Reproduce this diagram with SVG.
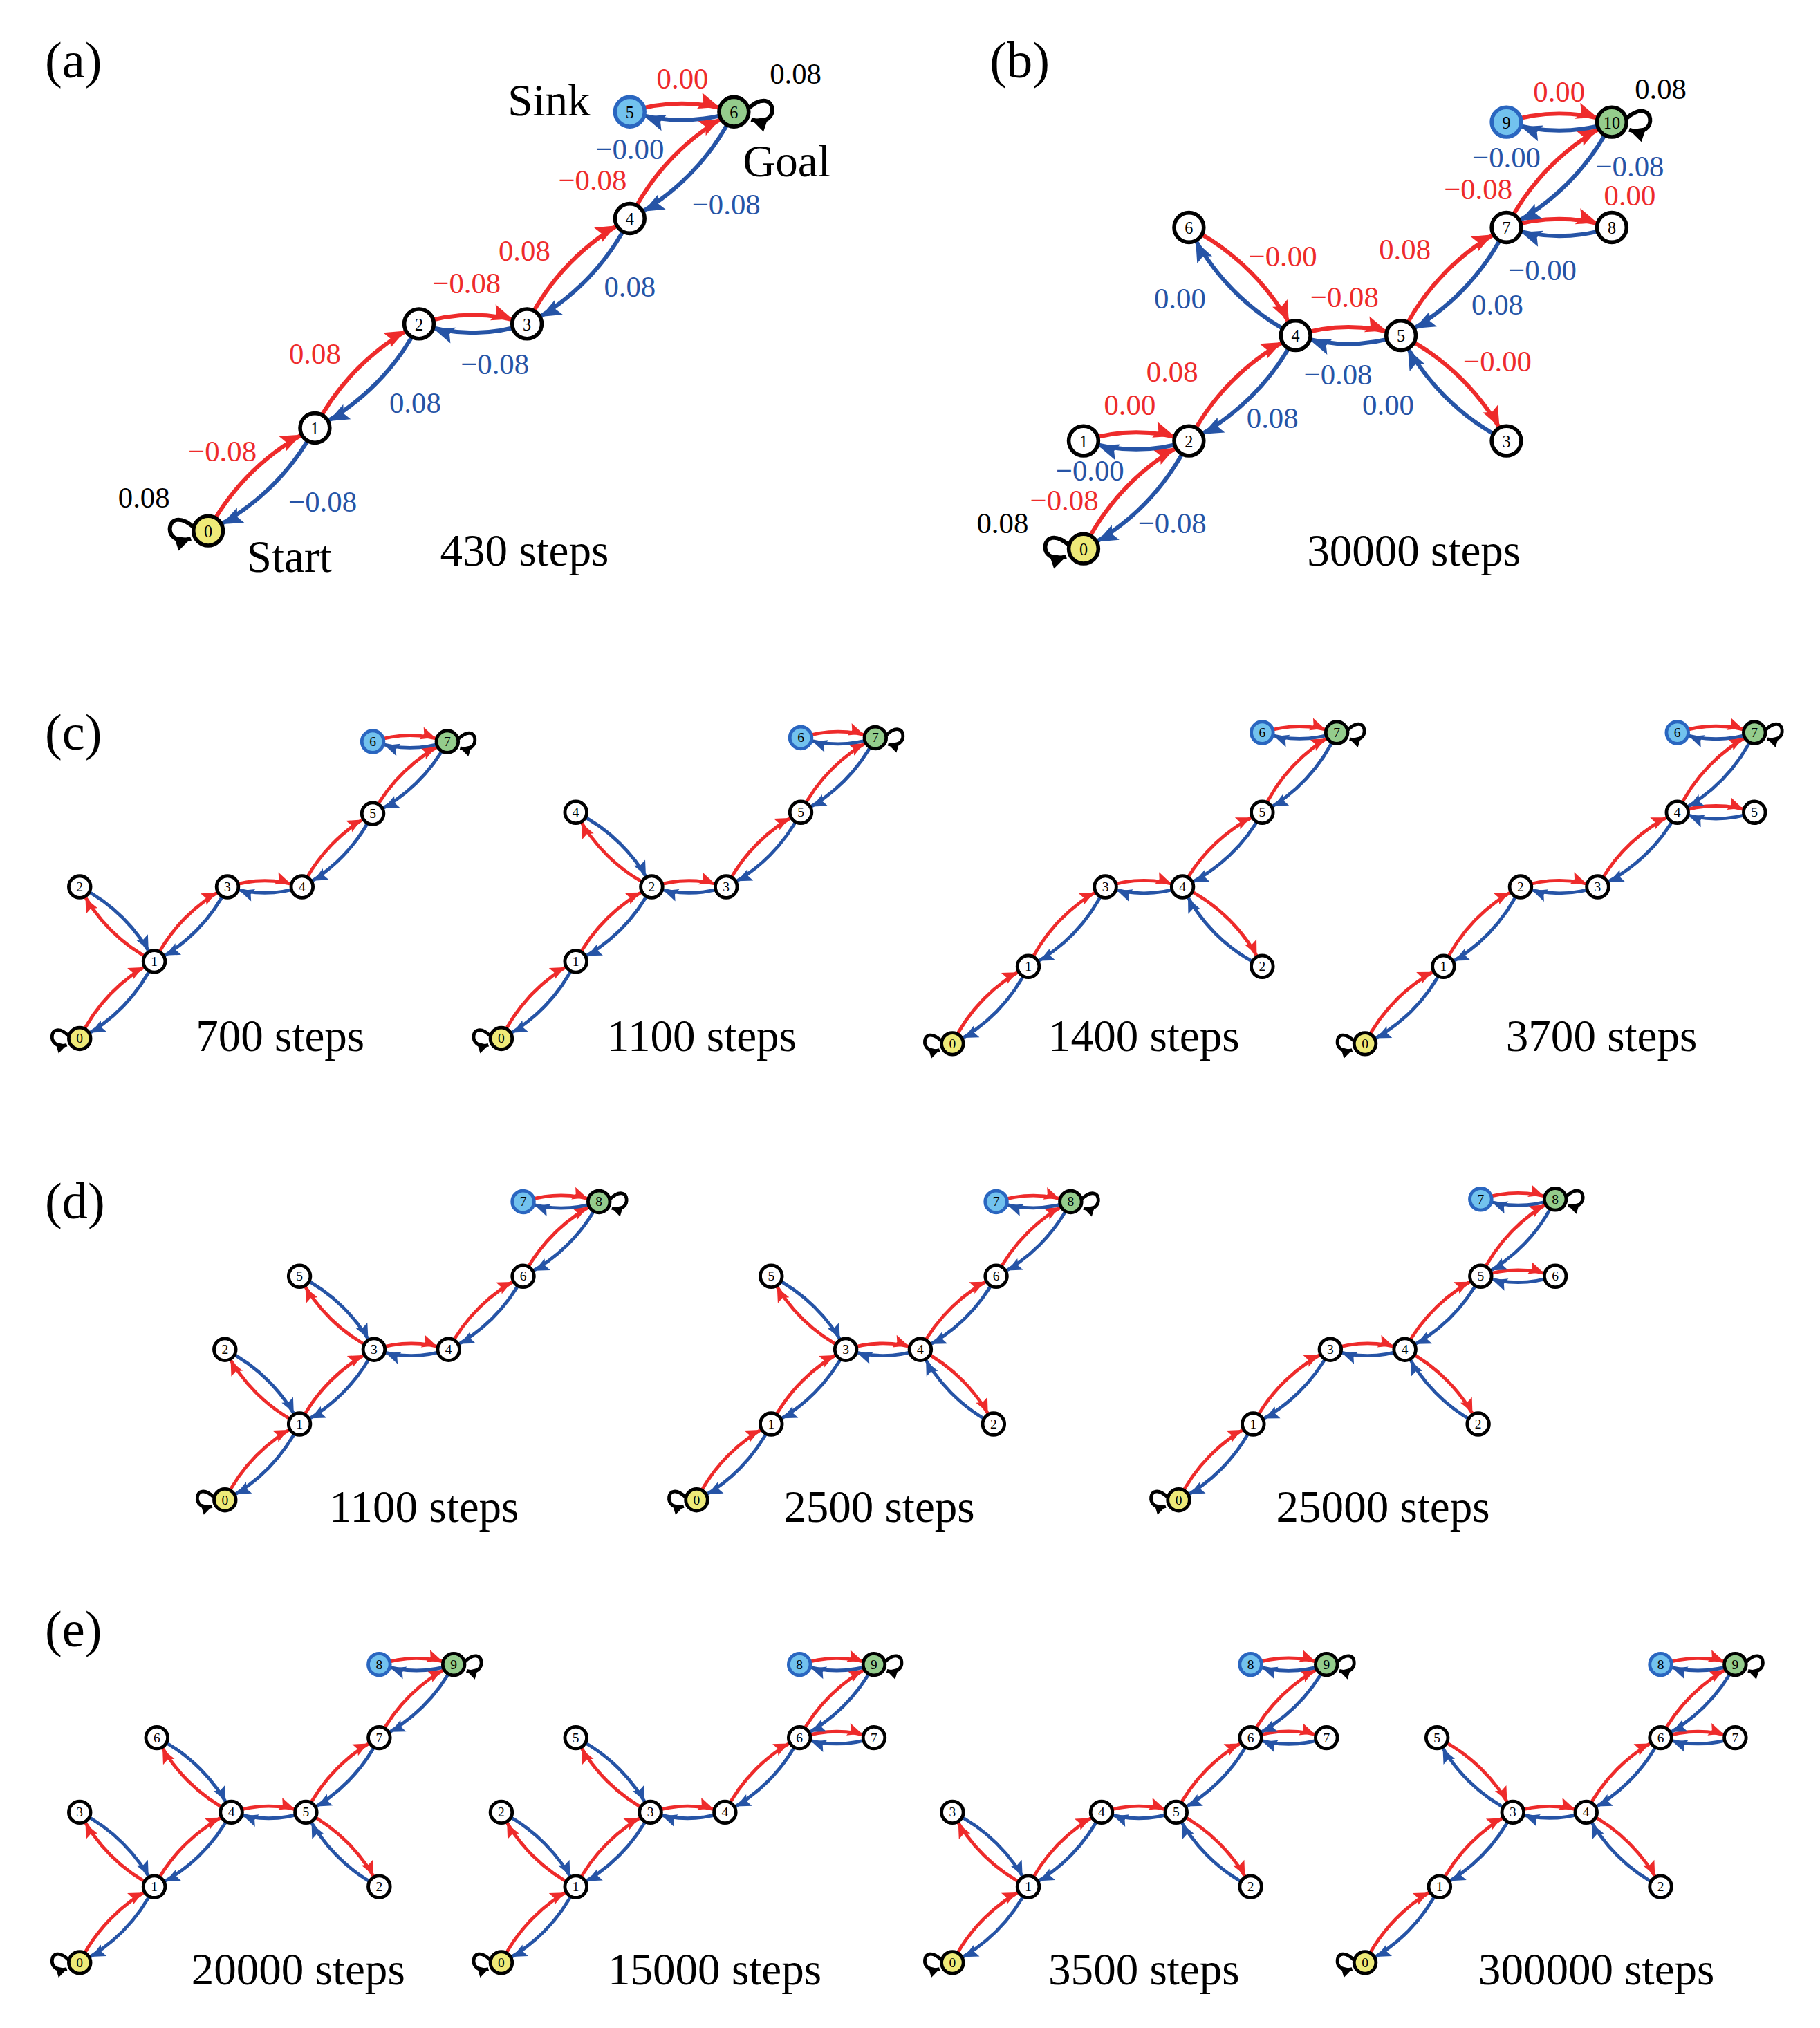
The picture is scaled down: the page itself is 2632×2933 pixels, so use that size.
<svg xmlns="http://www.w3.org/2000/svg" width="2632" height="2933" viewBox="0 0 2632 2933">
<defs>
<marker id="mR" viewBox="-32 -10 34 20" refX="0" refY="0" markerWidth="34" markerHeight="20" markerUnits="userSpaceOnUse" orient="auto"><path d="M-12,0 L-28,-6.5 L-25,0 L-28,6.5 Z" fill="#ee2b2b"/></marker>
<marker id="mB" viewBox="-32 -10 34 20" refX="0" refY="0" markerWidth="34" markerHeight="20" markerUnits="userSpaceOnUse" orient="auto"><path d="M-12,0 L-28,-6.5 L-25,0 L-28,6.5 Z" fill="#2654a6"/></marker>
<marker id="mr" viewBox="-26 -8 28 16" refX="0" refY="0" markerWidth="28" markerHeight="16" markerUnits="userSpaceOnUse" orient="auto"><path d="M-10,0 L-21,-5 L-19,0 L-21,5 Z" fill="#ee2b2b"/></marker>
<marker id="mb" viewBox="-26 -8 28 16" refX="0" refY="0" markerWidth="28" markerHeight="16" markerUnits="userSpaceOnUse" orient="auto"><path d="M-10,0 L-21,-5 L-19,0 L-21,5 Z" fill="#2654a6"/></marker>
<marker id="mK" viewBox="-14 -8 16 16" refX="0" refY="0" markerWidth="16" markerHeight="16" markerUnits="userSpaceOnUse" orient="auto"><path d="M0,0 L-12,-6 L-12,6 Z" fill="#000"/></marker>
<marker id="mk" viewBox="-10 -6 12 12" refX="0" refY="0" markerWidth="12" markerHeight="12" markerUnits="userSpaceOnUse" orient="auto"><path d="M0,0 L-8,-4.5 L-8,4.5 Z" fill="#000"/></marker>
</defs>
<style>
.R{fill:none;stroke:#ee2b2b;stroke-width:3.2;marker-end:url(#mR)}
.B{fill:none;stroke:#2654a6;stroke-width:3.2;marker-end:url(#mB)}
.r{fill:none;stroke:#ee2b2b;stroke-width:2.6;marker-end:url(#mr)}
.b{fill:none;stroke:#2654a6;stroke-width:2.6;marker-end:url(#mb)}
.L{fill:none;stroke:#000;stroke-width:3.2;marker-end:url(#mK)}
.l{fill:none;stroke:#000;stroke-width:2.6;marker-end:url(#mk)}
.N circle{fill:#fff;stroke:#000;stroke-width:3}
.n circle{fill:#fff;stroke:#000;stroke-width:2.6}
circle.y{fill:#eeea78}
circle.s{fill:#72c2ee;stroke:#2a66c0}
circle.g{fill:#94cc8c}
text{font-family:"Liberation Serif","Times New Roman",serif}
.N text{font-size:13px;text-anchor:middle}
.n text{font-size:10.5px;text-anchor:middle}
.t{font-size:40px}
.st{font-size:35px;text-anchor:middle}
.k{font-size:35px}
.el{font-size:23px;text-anchor:middle}
.er{fill:#ee2b2b}.eb{fill:#2654a6}
</style>
<rect width="2632" height="2933" fill="#fff"/>
<g transform="scale(1.8588)">
<g id="connectors">
<!-- (a) -->
<path class="R" d="M162,413 A184,184 0 0 1 245,333"/><path class="B" d="M245,333 A184,184 0 0 1 162,413"/>
<path class="R" d="M245,333 A184,184 0 0 1 326,252"/><path class="B" d="M326,252 A184,184 0 0 1 245,333"/>
<path class="R" d="M326,252 A131,131 0 0 1 410,252"/><path class="B" d="M410,252 A131,131 0 0 1 326,252"/>
<path class="R" d="M410,252 A184,184 0 0 1 490,170"/><path class="B" d="M490,170 A184,184 0 0 1 410,252"/>
<path class="R" d="M490,170 A184,184 0 0 1 571,87"/><path class="B" d="M571,87 A184,184 0 0 1 490,170"/>
<path class="R" d="M490,87 A131,131 0 0 1 571,87"/><path class="B" d="M571,87 A131,131 0 0 1 490,87"/>
<path class="L" d="M150.5,410 C128.5,391 124.5,427 148.5,419"/><path class="L" d="M582.5,84 C604.5,65 608.5,101 584.5,93"/>
<!-- (b) -->
<path class="R" d="M843,427 A184,184 0 0 1 925,343"/><path class="B" d="M925,343 A184,184 0 0 1 843,427"/>
<path class="R" d="M843,343 A131,131 0 0 1 925,343"/><path class="B" d="M925,343 A131,131 0 0 1 843,343"/>
<path class="R" d="M925,343 A184,184 0 0 1 1008,261"/><path class="B" d="M1008,261 A184,184 0 0 1 925,343"/>
<path class="R" d="M925,177 A184,184 0 0 1 1008,261"/><path class="B" d="M1008,261 A184,184 0 0 1 925,177"/>
<path class="R" d="M1008,261 A131,131 0 0 1 1090,261"/><path class="B" d="M1090,261 A131,131 0 0 1 1008,261"/>
<path class="R" d="M1090,261 A184,184 0 0 1 1172,343"/><path class="B" d="M1172,343 A184,184 0 0 1 1090,261"/>
<path class="R" d="M1090,261 A184,184 0 0 1 1172,177"/><path class="B" d="M1172,177 A184,184 0 0 1 1090,261"/>
<path class="R" d="M1172,177 A131,131 0 0 1 1254,177"/><path class="B" d="M1254,177 A131,131 0 0 1 1172,177"/>
<path class="R" d="M1172,177 A184,184 0 0 1 1254,95"/><path class="B" d="M1254,95 A184,184 0 0 1 1172,177"/>
<path class="R" d="M1172,95 A131,131 0 0 1 1254,95"/><path class="B" d="M1254,95 A131,131 0 0 1 1172,95"/>
<path class="L" d="M831.5,424 C809.5,405 805.5,441 829.5,433"/><path class="L" d="M1265.5,92 C1287.5,73 1291.5,109 1267.5,101"/>
<!-- c1 -->
<path class="r" d="M62,808 A130,130 0 0 1 120,748"/><path class="b" d="M120,748 A130,130 0 0 1 62,808"/>
<path class="r" d="M120,748 A130,130 0 0 1 62,690"/><path class="b" d="M62,690 A130,130 0 0 1 120,748"/>
<path class="r" d="M120,748 A130,130 0 0 1 177,690"/><path class="b" d="M177,690 A130,130 0 0 1 120,748"/>
<path class="r" d="M177,690 A93,93 0 0 1 235,690"/><path class="b" d="M235,690 A93,93 0 0 1 177,690"/>
<path class="r" d="M235,690 A130,130 0 0 1 290,633"/><path class="b" d="M290,633 A130,130 0 0 1 235,690"/>
<path class="r" d="M290,633 A130,130 0 0 1 348,577"/><path class="b" d="M348,577 A130,130 0 0 1 290,633"/>
<path class="r" d="M290,577 A93,93 0 0 1 348,577"/><path class="b" d="M348,577 A93,93 0 0 1 290,577"/>
<path class="l" d="M53.5,806 C38,791 35,818 52,813"/><path class="l" d="M356.5,575 C372,560 375,587 358,582"/>
<!-- c2 -->
<path class="r" d="M390,808 A130,130 0 0 1 448,748"/><path class="b" d="M448,748 A130,130 0 0 1 390,808"/>
<path class="r" d="M448,748 A130,130 0 0 1 507,690"/><path class="b" d="M507,690 A130,130 0 0 1 448,748"/>
<path class="r" d="M507,690 A130,130 0 0 1 448,632"/><path class="b" d="M448,632 A130,130 0 0 1 507,690"/>
<path class="r" d="M507,690 A93,93 0 0 1 565,690"/><path class="b" d="M565,690 A93,93 0 0 1 507,690"/>
<path class="r" d="M565,690 A130,130 0 0 1 623,632"/><path class="b" d="M623,632 A130,130 0 0 1 565,690"/>
<path class="r" d="M623,632 A130,130 0 0 1 681,574"/><path class="b" d="M681,574 A130,130 0 0 1 623,632"/>
<path class="r" d="M623,574 A93,93 0 0 1 681,574"/><path class="b" d="M681,574 A93,93 0 0 1 623,574"/>
<path class="l" d="M381.5,806 C366,791 363,818 380,813"/><path class="l" d="M689.5,572 C705,557 708,584 691,579"/>
<!-- c3 -->
<path class="r" d="M741,812 A130,130 0 0 1 800,752"/><path class="b" d="M800,752 A130,130 0 0 1 741,812"/>
<path class="r" d="M800,752 A130,130 0 0 1 860,690"/><path class="b" d="M860,690 A130,130 0 0 1 800,752"/>
<path class="r" d="M860,690 A93,93 0 0 1 920,690"/><path class="b" d="M920,690 A93,93 0 0 1 860,690"/>
<path class="r" d="M920,690 A130,130 0 0 1 982,752"/><path class="b" d="M982,752 A130,130 0 0 1 920,690"/>
<path class="r" d="M920,690 A130,130 0 0 1 982,632"/><path class="b" d="M982,632 A130,130 0 0 1 920,690"/>
<path class="r" d="M982,632 A130,130 0 0 1 1040,570"/><path class="b" d="M1040,570 A130,130 0 0 1 982,632"/>
<path class="r" d="M982,570 A93,93 0 0 1 1040,570"/><path class="b" d="M1040,570 A93,93 0 0 1 982,570"/>
<path class="l" d="M732.5,810 C717,795 714,822 731,817"/><path class="l" d="M1048.5,568 C1064,553 1067,580 1050,575"/>
<!-- c4 -->
<path class="r" d="M1062,812 A130,130 0 0 1 1123,752"/><path class="b" d="M1123,752 A130,130 0 0 1 1062,812"/>
<path class="r" d="M1123,752 A130,130 0 0 1 1183,690"/><path class="b" d="M1183,690 A130,130 0 0 1 1123,752"/>
<path class="r" d="M1183,690 A93,93 0 0 1 1243,690"/><path class="b" d="M1243,690 A93,93 0 0 1 1183,690"/>
<path class="r" d="M1243,690 A130,130 0 0 1 1305,632"/><path class="b" d="M1305,632 A130,130 0 0 1 1243,690"/>
<path class="r" d="M1305,632 A93,93 0 0 1 1365,632"/><path class="b" d="M1365,632 A93,93 0 0 1 1305,632"/>
<path class="r" d="M1305,632 A130,130 0 0 1 1365,570"/><path class="b" d="M1365,570 A130,130 0 0 1 1305,632"/>
<path class="r" d="M1305,570 A93,93 0 0 1 1365,570"/><path class="b" d="M1365,570 A93,93 0 0 1 1305,570"/>
<path class="l" d="M1053.5,810 C1038,795 1035,822 1052,817"/><path class="l" d="M1373.5,568 C1389,553 1392,580 1375,575"/>
<!-- d1 -->
<path class="r" d="M175,1167 A130,130 0 0 1 233,1108"/><path class="b" d="M233,1108 A130,130 0 0 1 175,1167"/>
<path class="r" d="M233,1108 A130,130 0 0 1 175,1050"/><path class="b" d="M175,1050 A130,130 0 0 1 233,1108"/>
<path class="r" d="M233,1108 A130,130 0 0 1 291,1050"/><path class="b" d="M291,1050 A130,130 0 0 1 233,1108"/>
<path class="r" d="M291,1050 A130,130 0 0 1 233,993"/><path class="b" d="M233,993 A130,130 0 0 1 291,1050"/>
<path class="r" d="M291,1050 A93,93 0 0 1 349,1050"/><path class="b" d="M349,1050 A93,93 0 0 1 291,1050"/>
<path class="r" d="M349,1050 A130,130 0 0 1 407,993"/><path class="b" d="M407,993 A130,130 0 0 1 349,1050"/>
<path class="r" d="M407,993 A130,130 0 0 1 466,935"/><path class="b" d="M466,935 A130,130 0 0 1 407,993"/>
<path class="r" d="M407,935 A93,93 0 0 1 466,935"/><path class="b" d="M466,935 A93,93 0 0 1 407,935"/>
<path class="l" d="M166.5,1165 C151,1150 148,1177 165,1172"/><path class="l" d="M474.5,933 C490,918 493,945 476,940"/>
<!-- d2 -->
<path class="r" d="M542,1167 A130,130 0 0 1 600,1108"/><path class="b" d="M600,1108 A130,130 0 0 1 542,1167"/>
<path class="r" d="M600,1108 A130,130 0 0 1 658,1050"/><path class="b" d="M658,1050 A130,130 0 0 1 600,1108"/>
<path class="r" d="M658,1050 A130,130 0 0 1 600,993"/><path class="b" d="M600,993 A130,130 0 0 1 658,1050"/>
<path class="r" d="M658,1050 A93,93 0 0 1 716,1050"/><path class="b" d="M716,1050 A93,93 0 0 1 658,1050"/>
<path class="r" d="M716,1050 A130,130 0 0 1 773,1108"/><path class="b" d="M773,1108 A130,130 0 0 1 716,1050"/>
<path class="r" d="M716,1050 A130,130 0 0 1 775,993"/><path class="b" d="M775,993 A130,130 0 0 1 716,1050"/>
<path class="r" d="M775,993 A130,130 0 0 1 833,935"/><path class="b" d="M833,935 A130,130 0 0 1 775,993"/>
<path class="r" d="M775,935 A93,93 0 0 1 833,935"/><path class="b" d="M833,935 A93,93 0 0 1 775,935"/>
<path class="l" d="M533.5,1165 C518,1150 515,1177 532,1172"/><path class="l" d="M841.5,933 C857,918 860,945 843,940"/>
<!-- d3 -->
<path class="r" d="M917,1167 A130,130 0 0 1 975,1108"/><path class="b" d="M975,1108 A130,130 0 0 1 917,1167"/>
<path class="r" d="M975,1108 A130,130 0 0 1 1035,1050"/><path class="b" d="M1035,1050 A130,130 0 0 1 975,1108"/>
<path class="r" d="M1035,1050 A93,93 0 0 1 1093,1050"/><path class="b" d="M1093,1050 A93,93 0 0 1 1035,1050"/>
<path class="r" d="M1093,1050 A130,130 0 0 1 1150,1108"/><path class="b" d="M1150,1108 A130,130 0 0 1 1093,1050"/>
<path class="r" d="M1093,1050 A130,130 0 0 1 1152,993"/><path class="b" d="M1152,993 A130,130 0 0 1 1093,1050"/>
<path class="r" d="M1152,993 A93,93 0 0 1 1210,993"/><path class="b" d="M1210,993 A93,93 0 0 1 1152,993"/>
<path class="r" d="M1152,993 A130,130 0 0 1 1210,933"/><path class="b" d="M1210,933 A130,130 0 0 1 1152,993"/>
<path class="r" d="M1152,933 A93,93 0 0 1 1210,933"/><path class="b" d="M1210,933 A93,93 0 0 1 1152,933"/>
<path class="l" d="M908.5,1165 C893,1150 890,1177 907,1172"/><path class="l" d="M1218.5,931 C1234,916 1237,943 1220,938"/>
<!-- e1 -->
<path class="r" d="M62,1527 A130,130 0 0 1 120,1468"/><path class="b" d="M120,1468 A130,130 0 0 1 62,1527"/>
<path class="r" d="M120,1468 A130,130 0 0 1 62,1410"/><path class="b" d="M62,1410 A130,130 0 0 1 120,1468"/>
<path class="r" d="M120,1468 A130,130 0 0 1 180,1410"/><path class="b" d="M180,1410 A130,130 0 0 1 120,1468"/>
<path class="r" d="M180,1410 A130,130 0 0 1 122,1352"/><path class="b" d="M122,1352 A130,130 0 0 1 180,1410"/>
<path class="r" d="M180,1410 A93,93 0 0 1 238,1410"/><path class="b" d="M238,1410 A93,93 0 0 1 180,1410"/>
<path class="r" d="M238,1410 A130,130 0 0 1 295,1468"/><path class="b" d="M295,1468 A130,130 0 0 1 238,1410"/>
<path class="r" d="M238,1410 A130,130 0 0 1 295,1352"/><path class="b" d="M295,1352 A130,130 0 0 1 238,1410"/>
<path class="r" d="M295,1352 A130,130 0 0 1 353,1295"/><path class="b" d="M353,1295 A130,130 0 0 1 295,1352"/>
<path class="r" d="M295,1295 A93,93 0 0 1 353,1295"/><path class="b" d="M353,1295 A93,93 0 0 1 295,1295"/>
<path class="l" d="M53.5,1525 C38,1510 35,1537 52,1532"/><path class="l" d="M361.5,1293 C377,1278 380,1305 363,1300"/>
<!-- e2 -->
<path class="r" d="M390,1527 A130,130 0 0 1 448,1468"/><path class="b" d="M448,1468 A130,130 0 0 1 390,1527"/>
<path class="r" d="M448,1468 A130,130 0 0 1 390,1410"/><path class="b" d="M390,1410 A130,130 0 0 1 448,1468"/>
<path class="r" d="M448,1468 A130,130 0 0 1 506,1410"/><path class="b" d="M506,1410 A130,130 0 0 1 448,1468"/>
<path class="r" d="M506,1410 A130,130 0 0 1 448,1352"/><path class="b" d="M448,1352 A130,130 0 0 1 506,1410"/>
<path class="r" d="M506,1410 A93,93 0 0 1 564,1410"/><path class="b" d="M564,1410 A93,93 0 0 1 506,1410"/>
<path class="r" d="M564,1410 A130,130 0 0 1 622,1352"/><path class="b" d="M622,1352 A130,130 0 0 1 564,1410"/>
<path class="r" d="M622,1352 A93,93 0 0 1 680,1352"/><path class="b" d="M680,1352 A93,93 0 0 1 622,1352"/>
<path class="r" d="M622,1352 A130,130 0 0 1 680,1295"/><path class="b" d="M680,1295 A130,130 0 0 1 622,1352"/>
<path class="r" d="M622,1295 A93,93 0 0 1 680,1295"/><path class="b" d="M680,1295 A93,93 0 0 1 622,1295"/>
<path class="l" d="M381.5,1525 C366,1510 363,1537 380,1532"/><path class="l" d="M688.5,1293 C704,1278 707,1305 690,1300"/>
<!-- e3 -->
<path class="r" d="M741,1527 A130,130 0 0 1 800,1468"/><path class="b" d="M800,1468 A130,130 0 0 1 741,1527"/>
<path class="r" d="M800,1468 A130,130 0 0 1 741,1410"/><path class="b" d="M741,1410 A130,130 0 0 1 800,1468"/>
<path class="r" d="M800,1468 A130,130 0 0 1 857,1410"/><path class="b" d="M857,1410 A130,130 0 0 1 800,1468"/>
<path class="r" d="M857,1410 A93,93 0 0 1 915,1410"/><path class="b" d="M915,1410 A93,93 0 0 1 857,1410"/>
<path class="r" d="M915,1410 A130,130 0 0 1 973,1468"/><path class="b" d="M973,1468 A130,130 0 0 1 915,1410"/>
<path class="r" d="M915,1410 A130,130 0 0 1 973,1352"/><path class="b" d="M973,1352 A130,130 0 0 1 915,1410"/>
<path class="r" d="M973,1352 A93,93 0 0 1 1032,1352"/><path class="b" d="M1032,1352 A93,93 0 0 1 973,1352"/>
<path class="r" d="M973,1352 A130,130 0 0 1 1032,1295"/><path class="b" d="M1032,1295 A130,130 0 0 1 973,1352"/>
<path class="r" d="M973,1295 A93,93 0 0 1 1032,1295"/><path class="b" d="M1032,1295 A93,93 0 0 1 973,1295"/>
<path class="l" d="M732.5,1525 C717,1510 714,1537 731,1532"/><path class="l" d="M1040.5,1293 C1056,1278 1059,1305 1042,1300"/>
<!-- e4 -->
<path class="r" d="M1062,1527 A130,130 0 0 1 1120,1468"/><path class="b" d="M1120,1468 A130,130 0 0 1 1062,1527"/>
<path class="r" d="M1120,1468 A130,130 0 0 1 1177,1410"/><path class="b" d="M1177,1410 A130,130 0 0 1 1120,1468"/>
<path class="r" d="M1118,1352 A130,130 0 0 1 1177,1410"/><path class="b" d="M1177,1410 A130,130 0 0 1 1118,1352"/>
<path class="r" d="M1177,1410 A93,93 0 0 1 1234,1410"/><path class="b" d="M1234,1410 A93,93 0 0 1 1177,1410"/>
<path class="r" d="M1234,1410 A130,130 0 0 1 1292,1468"/><path class="b" d="M1292,1468 A130,130 0 0 1 1234,1410"/>
<path class="r" d="M1234,1410 A130,130 0 0 1 1292,1352"/><path class="b" d="M1292,1352 A130,130 0 0 1 1234,1410"/>
<path class="r" d="M1292,1352 A93,93 0 0 1 1350,1352"/><path class="b" d="M1350,1352 A93,93 0 0 1 1292,1352"/>
<path class="r" d="M1292,1352 A130,130 0 0 1 1350,1295"/><path class="b" d="M1350,1295 A130,130 0 0 1 1292,1352"/>
<path class="r" d="M1292,1295 A93,93 0 0 1 1350,1295"/><path class="b" d="M1350,1295 A93,93 0 0 1 1292,1295"/>
<path class="l" d="M1053.5,1525 C1038,1510 1035,1537 1052,1532"/><path class="l" d="M1358.5,1293 C1374,1278 1377,1305 1360,1300"/>
</g>

<!-- nodes (a) -->
<g id="a0" class="N"><circle class="y" cx="162" cy="413" r="11.5"/><text x="162" y="418">0</text></g>
<g id="a1" class="N"><circle cx="245" cy="333" r="11.5"/><text x="245" y="338">1</text></g>
<g id="a2" class="N"><circle cx="326" cy="252" r="11.5"/><text x="326" y="257">2</text></g>
<g id="a3" class="N"><circle cx="410" cy="252" r="11.5"/><text x="410" y="257">3</text></g>
<g id="a4" class="N"><circle cx="490" cy="170" r="11.5"/><text x="490" y="175">4</text></g>
<g id="a5" class="N"><circle class="s" cx="490" cy="87" r="11.5"/><text x="490" y="92">5</text></g>
<g id="a6" class="N"><circle class="g" cx="571" cy="87" r="11.5"/><text x="571" y="92">6</text></g>
<!-- nodes (b) -->
<g id="b0" class="N"><circle class="y" cx="843" cy="427" r="11.5"/><text x="843" y="432">0</text></g>
<g id="b1" class="N"><circle cx="843" cy="343" r="11.5"/><text x="843" y="348">1</text></g>
<g id="b2" class="N"><circle cx="925" cy="343" r="11.5"/><text x="925" y="348">2</text></g>
<g id="b3" class="N"><circle cx="1172" cy="343" r="11.5"/><text x="1172" y="348">3</text></g>
<g id="b4" class="N"><circle cx="1008" cy="261" r="11.5"/><text x="1008" y="266">4</text></g>
<g id="b5" class="N"><circle cx="1090" cy="261" r="11.5"/><text x="1090" y="266">5</text></g>
<g id="b6" class="N"><circle cx="925" cy="177" r="11.5"/><text x="925" y="182">6</text></g>
<g id="b7" class="N"><circle cx="1172" cy="177" r="11.5"/><text x="1172" y="182">7</text></g>
<g id="b8" class="N"><circle cx="1254" cy="177" r="11.5"/><text x="1254" y="182">8</text></g>
<g id="b9" class="N"><circle class="s" cx="1172" cy="95" r="11.5"/><text x="1172" y="100">9</text></g>
<g id="b10" class="N"><circle class="g" cx="1254" cy="95" r="11.5"/><text x="1254" y="100">10</text></g>
<!-- c1 -->
<g id="c1n0" class="n"><circle class="y" cx="62" cy="808" r="8.5"/><text x="62" y="811.5">0</text></g>
<g id="c1n1" class="n"><circle cx="120" cy="748" r="8.5"/><text x="120" y="751.5">1</text></g>
<g id="c1n2" class="n"><circle cx="62" cy="690" r="8.5"/><text x="62" y="693.5">2</text></g>
<g id="c1n3" class="n"><circle cx="177" cy="690" r="8.5"/><text x="177" y="693.5">3</text></g>
<g id="c1n4" class="n"><circle cx="235" cy="690" r="8.5"/><text x="235" y="693.5">4</text></g>
<g id="c1n5" class="n"><circle cx="290" cy="633" r="8.5"/><text x="290" y="636.5">5</text></g>
<g id="c1n6" class="n"><circle class="s" cx="290" cy="577" r="8.5"/><text x="290" y="580.5">6</text></g>
<g id="c1n7" class="n"><circle class="g" cx="348" cy="577" r="8.5"/><text x="348" y="580.5">7</text></g>
<!-- c2 -->
<g id="c2n0" class="n"><circle class="y" cx="390" cy="808" r="8.5"/><text x="390" y="811.5">0</text></g>
<g id="c2n1" class="n"><circle cx="448" cy="748" r="8.5"/><text x="448" y="751.5">1</text></g>
<g id="c2n2" class="n"><circle cx="507" cy="690" r="8.5"/><text x="507" y="693.5">2</text></g>
<g id="c2n3" class="n"><circle cx="565" cy="690" r="8.5"/><text x="565" y="693.5">3</text></g>
<g id="c2n4" class="n"><circle cx="448" cy="632" r="8.5"/><text x="448" y="635.5">4</text></g>
<g id="c2n5" class="n"><circle cx="623" cy="632" r="8.5"/><text x="623" y="635.5">5</text></g>
<g id="c2n6" class="n"><circle class="s" cx="623" cy="574" r="8.5"/><text x="623" y="577.5">6</text></g>
<g id="c2n7" class="n"><circle class="g" cx="681" cy="574" r="8.5"/><text x="681" y="577.5">7</text></g>
<!-- c3 -->
<g id="c3n0" class="n"><circle class="y" cx="741" cy="812" r="8.5"/><text x="741" y="815.5">0</text></g>
<g id="c3n1" class="n"><circle cx="800" cy="752" r="8.5"/><text x="800" y="755.5">1</text></g>
<g id="c3n2" class="n"><circle cx="982" cy="752" r="8.5"/><text x="982" y="755.5">2</text></g>
<g id="c3n3" class="n"><circle cx="860" cy="690" r="8.5"/><text x="860" y="693.5">3</text></g>
<g id="c3n4" class="n"><circle cx="920" cy="690" r="8.5"/><text x="920" y="693.5">4</text></g>
<g id="c3n5" class="n"><circle cx="982" cy="632" r="8.5"/><text x="982" y="635.5">5</text></g>
<g id="c3n6" class="n"><circle class="s" cx="982" cy="570" r="8.5"/><text x="982" y="573.5">6</text></g>
<g id="c3n7" class="n"><circle class="g" cx="1040" cy="570" r="8.5"/><text x="1040" y="573.5">7</text></g>
<!-- c4 -->
<g id="c4n0" class="n"><circle class="y" cx="1062" cy="812" r="8.5"/><text x="1062" y="815.5">0</text></g>
<g id="c4n1" class="n"><circle cx="1123" cy="752" r="8.5"/><text x="1123" y="755.5">1</text></g>
<g id="c4n2" class="n"><circle cx="1183" cy="690" r="8.5"/><text x="1183" y="693.5">2</text></g>
<g id="c4n3" class="n"><circle cx="1243" cy="690" r="8.5"/><text x="1243" y="693.5">3</text></g>
<g id="c4n4" class="n"><circle cx="1305" cy="632" r="8.5"/><text x="1305" y="635.5">4</text></g>
<g id="c4n5" class="n"><circle cx="1365" cy="632" r="8.5"/><text x="1365" y="635.5">5</text></g>
<g id="c4n6" class="n"><circle class="s" cx="1305" cy="570" r="8.5"/><text x="1305" y="573.5">6</text></g>
<g id="c4n7" class="n"><circle class="g" cx="1365" cy="570" r="8.5"/><text x="1365" y="573.5">7</text></g>
<!-- d1 -->
<g id="d1n0" class="n"><circle class="y" cx="175" cy="1167" r="8.5"/><text x="175" y="1170.5">0</text></g>
<g id="d1n1" class="n"><circle cx="233" cy="1108" r="8.5"/><text x="233" y="1111.5">1</text></g>
<g id="d1n2" class="n"><circle cx="175" cy="1050" r="8.5"/><text x="175" y="1053.5">2</text></g>
<g id="d1n3" class="n"><circle cx="291" cy="1050" r="8.5"/><text x="291" y="1053.5">3</text></g>
<g id="d1n4" class="n"><circle cx="349" cy="1050" r="8.5"/><text x="349" y="1053.5">4</text></g>
<g id="d1n5" class="n"><circle cx="233" cy="993" r="8.5"/><text x="233" y="996.5">5</text></g>
<g id="d1n6" class="n"><circle cx="407" cy="993" r="8.5"/><text x="407" y="996.5">6</text></g>
<g id="d1n7" class="n"><circle class="s" cx="407" cy="935" r="8.5"/><text x="407" y="938.5">7</text></g>
<g id="d1n8" class="n"><circle class="g" cx="466" cy="935" r="8.5"/><text x="466" y="938.5">8</text></g>
<!-- d2 -->
<g id="d2n0" class="n"><circle class="y" cx="542" cy="1167" r="8.5"/><text x="542" y="1170.5">0</text></g>
<g id="d2n1" class="n"><circle cx="600" cy="1108" r="8.5"/><text x="600" y="1111.5">1</text></g>
<g id="d2n2" class="n"><circle cx="773" cy="1108" r="8.5"/><text x="773" y="1111.5">2</text></g>
<g id="d2n3" class="n"><circle cx="658" cy="1050" r="8.5"/><text x="658" y="1053.5">3</text></g>
<g id="d2n4" class="n"><circle cx="716" cy="1050" r="8.5"/><text x="716" y="1053.5">4</text></g>
<g id="d2n5" class="n"><circle cx="600" cy="993" r="8.5"/><text x="600" y="996.5">5</text></g>
<g id="d2n6" class="n"><circle cx="775" cy="993" r="8.5"/><text x="775" y="996.5">6</text></g>
<g id="d2n7" class="n"><circle class="s" cx="775" cy="935" r="8.5"/><text x="775" y="938.5">7</text></g>
<g id="d2n8" class="n"><circle class="g" cx="833" cy="935" r="8.5"/><text x="833" y="938.5">8</text></g>
<!-- d3 -->
<g id="d3n0" class="n"><circle class="y" cx="917" cy="1167" r="8.5"/><text x="917" y="1170.5">0</text></g>
<g id="d3n1" class="n"><circle cx="975" cy="1108" r="8.5"/><text x="975" y="1111.5">1</text></g>
<g id="d3n2" class="n"><circle cx="1150" cy="1108" r="8.5"/><text x="1150" y="1111.5">2</text></g>
<g id="d3n3" class="n"><circle cx="1035" cy="1050" r="8.5"/><text x="1035" y="1053.5">3</text></g>
<g id="d3n4" class="n"><circle cx="1093" cy="1050" r="8.5"/><text x="1093" y="1053.5">4</text></g>
<g id="d3n5" class="n"><circle cx="1152" cy="993" r="8.5"/><text x="1152" y="996.5">5</text></g>
<g id="d3n6" class="n"><circle cx="1210" cy="993" r="8.5"/><text x="1210" y="996.5">6</text></g>
<g id="d3n7" class="n"><circle class="s" cx="1152" cy="933" r="8.5"/><text x="1152" y="936.5">7</text></g>
<g id="d3n8" class="n"><circle class="g" cx="1210" cy="933" r="8.5"/><text x="1210" y="936.5">8</text></g>
<!-- e1 -->
<g id="e1n0" class="n"><circle class="y" cx="62" cy="1527" r="8.5"/><text x="62" y="1530.5">0</text></g>
<g id="e1n1" class="n"><circle cx="120" cy="1468" r="8.5"/><text x="120" y="1471.5">1</text></g>
<g id="e1n2" class="n"><circle cx="295" cy="1468" r="8.5"/><text x="295" y="1471.5">2</text></g>
<g id="e1n3" class="n"><circle cx="62" cy="1410" r="8.5"/><text x="62" y="1413.5">3</text></g>
<g id="e1n4" class="n"><circle cx="180" cy="1410" r="8.5"/><text x="180" y="1413.5">4</text></g>
<g id="e1n5" class="n"><circle cx="238" cy="1410" r="8.5"/><text x="238" y="1413.5">5</text></g>
<g id="e1n6" class="n"><circle cx="122" cy="1352" r="8.5"/><text x="122" y="1355.5">6</text></g>
<g id="e1n7" class="n"><circle cx="295" cy="1352" r="8.5"/><text x="295" y="1355.5">7</text></g>
<g id="e1n8" class="n"><circle class="s" cx="295" cy="1295" r="8.5"/><text x="295" y="1298.5">8</text></g>
<g id="e1n9" class="n"><circle class="g" cx="353" cy="1295" r="8.5"/><text x="353" y="1298.5">9</text></g>
<!-- e2 -->
<g id="e2n0" class="n"><circle class="y" cx="390" cy="1527" r="8.5"/><text x="390" y="1530.5">0</text></g>
<g id="e2n1" class="n"><circle cx="448" cy="1468" r="8.5"/><text x="448" y="1471.5">1</text></g>
<g id="e2n2" class="n"><circle cx="390" cy="1410" r="8.5"/><text x="390" y="1413.5">2</text></g>
<g id="e2n3" class="n"><circle cx="506" cy="1410" r="8.5"/><text x="506" y="1413.5">3</text></g>
<g id="e2n4" class="n"><circle cx="564" cy="1410" r="8.5"/><text x="564" y="1413.5">4</text></g>
<g id="e2n5" class="n"><circle cx="448" cy="1352" r="8.5"/><text x="448" y="1355.5">5</text></g>
<g id="e2n6" class="n"><circle cx="622" cy="1352" r="8.5"/><text x="622" y="1355.5">6</text></g>
<g id="e2n7" class="n"><circle cx="680" cy="1352" r="8.5"/><text x="680" y="1355.5">7</text></g>
<g id="e2n8" class="n"><circle class="s" cx="622" cy="1295" r="8.5"/><text x="622" y="1298.5">8</text></g>
<g id="e2n9" class="n"><circle class="g" cx="680" cy="1295" r="8.5"/><text x="680" y="1298.5">9</text></g>
<!-- e3 -->
<g id="e3n0" class="n"><circle class="y" cx="741" cy="1527" r="8.5"/><text x="741" y="1530.5">0</text></g>
<g id="e3n1" class="n"><circle cx="800" cy="1468" r="8.5"/><text x="800" y="1471.5">1</text></g>
<g id="e3n2" class="n"><circle cx="973" cy="1468" r="8.5"/><text x="973" y="1471.5">2</text></g>
<g id="e3n3" class="n"><circle cx="741" cy="1410" r="8.5"/><text x="741" y="1413.5">3</text></g>
<g id="e3n4" class="n"><circle cx="857" cy="1410" r="8.5"/><text x="857" y="1413.5">4</text></g>
<g id="e3n5" class="n"><circle cx="915" cy="1410" r="8.5"/><text x="915" y="1413.5">5</text></g>
<g id="e3n6" class="n"><circle cx="973" cy="1352" r="8.5"/><text x="973" y="1355.5">6</text></g>
<g id="e3n7" class="n"><circle cx="1032" cy="1352" r="8.5"/><text x="1032" y="1355.5">7</text></g>
<g id="e3n8" class="n"><circle class="s" cx="973" cy="1295" r="8.5"/><text x="973" y="1298.5">8</text></g>
<g id="e3n9" class="n"><circle class="g" cx="1032" cy="1295" r="8.5"/><text x="1032" y="1298.5">9</text></g>
<!-- e4 -->
<g id="e4n0" class="n"><circle class="y" cx="1062" cy="1527" r="8.5"/><text x="1062" y="1530.5">0</text></g>
<g id="e4n1" class="n"><circle cx="1120" cy="1468" r="8.5"/><text x="1120" y="1471.5">1</text></g>
<g id="e4n2" class="n"><circle cx="1292" cy="1468" r="8.5"/><text x="1292" y="1471.5">2</text></g>
<g id="e4n3" class="n"><circle cx="1177" cy="1410" r="8.5"/><text x="1177" y="1413.5">3</text></g>
<g id="e4n4" class="n"><circle cx="1234" cy="1410" r="8.5"/><text x="1234" y="1413.5">4</text></g>
<g id="e4n5" class="n"><circle cx="1118" cy="1352" r="8.5"/><text x="1118" y="1355.5">5</text></g>
<g id="e4n6" class="n"><circle cx="1292" cy="1352" r="8.5"/><text x="1292" y="1355.5">6</text></g>
<g id="e4n7" class="n"><circle cx="1350" cy="1352" r="8.5"/><text x="1350" y="1355.5">7</text></g>
<g id="e4n8" class="n"><circle class="s" cx="1292" cy="1295" r="8.5"/><text x="1292" y="1298.5">8</text></g>
<g id="e4n9" class="n"><circle class="g" cx="1350" cy="1295" r="8.5"/><text x="1350" y="1298.5">9</text></g>

<g id="labels">
<text class="t" x="35" y="60">(a)</text>
<text class="t" x="770" y="60">(b)</text>
<text class="t" x="35" y="583">(c)</text>
<text class="t" x="35" y="948">(d)</text>
<text class="t" x="35" y="1281">(e)</text>
<text class="k" x="395" y="90">Sink</text>
<text class="k" x="578" y="137">Goal</text>
<text class="k" x="192" y="445">Start</text>
<text class="st" x="408" y="440">430 steps</text>
<text class="st" x="1100" y="440">30000 steps</text>
<text class="st" x="218" y="818">700 steps</text>
<text class="st" x="546" y="818">1100 steps</text>
<text class="st" x="890" y="818">1400 steps</text>
<text class="st" x="1246" y="818">3700 steps</text>
<text class="st" x="330" y="1184">1100 steps</text>
<text class="st" x="684" y="1184">2500 steps</text>
<text class="st" x="1076" y="1184">25000 steps</text>
<text class="st" x="232" y="1544">20000 steps</text>
<text class="st" x="556" y="1544">15000 steps</text>
<text class="st" x="890" y="1544">3500 steps</text>
<text class="st" x="1242" y="1544">300000 steps</text>
<text class="el" x="112" y="395">0.08</text>
<text class="el" x="619" y="65">0.08</text>
<text class="el er" x="531" y="69">0.00</text>
<text class="el er" x="461" y="148">−0.08</text>
<text class="el er" x="408" y="203">0.08</text>
<text class="el er" x="363" y="228">−0.08</text>
<text class="el er" x="245" y="283">0.08</text>
<text class="el er" x="173" y="359">−0.08</text>
<text class="el eb" x="490" y="124">−0.00</text>
<text class="el eb" x="565" y="167">−0.08</text>
<text class="el eb" x="490" y="231">0.08</text>
<text class="el eb" x="385" y="291">−0.08</text>
<text class="el eb" x="323" y="321">0.08</text>
<text class="el eb" x="251" y="398">−0.08</text>
<text class="el" x="1292" y="77">0.08</text>
<text class="el" x="780" y="415">0.08</text>
<text class="el er" x="1213" y="79">0.00</text>
<text class="el er" x="1150" y="155">−0.08</text>
<text class="el er" x="1268" y="160">0.00</text>
<text class="el er" x="998" y="207">−0.00</text>
<text class="el er" x="1093" y="202">0.08</text>
<text class="el er" x="1046" y="239">−0.08</text>
<text class="el er" x="1165" y="289">−0.00</text>
<text class="el er" x="912" y="297">0.08</text>
<text class="el er" x="879" y="323">0.00</text>
<text class="el er" x="828" y="397">−0.08</text>
<text class="el eb" x="1172" y="130">−0.00</text>
<text class="el eb" x="1268" y="137">−0.08</text>
<text class="el eb" x="1200" y="218">−0.00</text>
<text class="el eb" x="1165" y="245">0.08</text>
<text class="el eb" x="918" y="240">0.00</text>
<text class="el eb" x="1041" y="299">−0.08</text>
<text class="el eb" x="1080" y="323">0.00</text>
<text class="el eb" x="990" y="333">0.08</text>
<text class="el eb" x="848" y="374">−0.00</text>
<text class="el eb" x="912" y="415">−0.08</text>
</g>
</g>
</svg>
